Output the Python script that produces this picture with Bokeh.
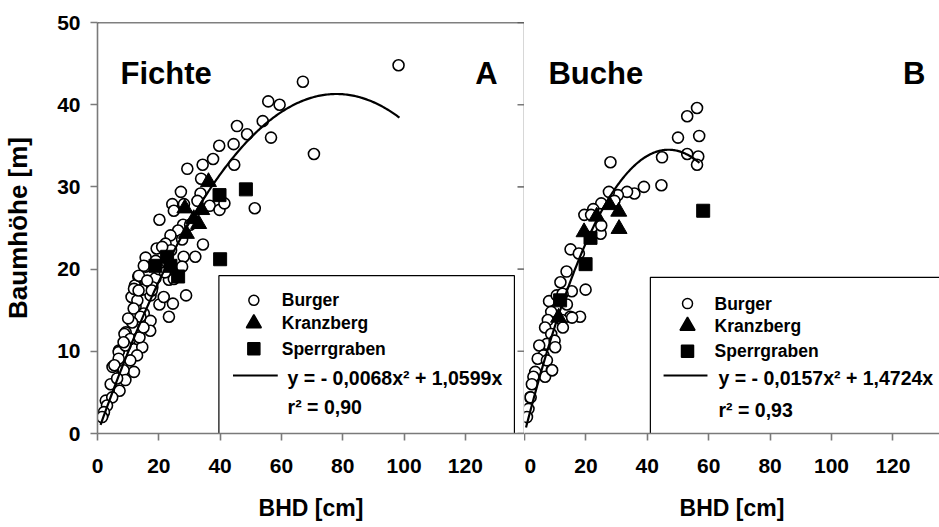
import numpy as np
from bokeh.plotting import figure
from bokeh.layouts import row
from bokeh.models import Range1d, FixedTicker, Span, Label
from bokeh.embed import file_html
from bokeh.resources import INLINE

FONT = "Liberation Sans"

# ---------------- Fichte (spruce) ----------------
fichte_burger_x = [98.2, 67.0, 70.6, 51.3, 55.7, 59.4, 53.9, 56.6, 45.5, 48.8, 39.7, 44.4, 37.7, 44.6,
                   34.3, 29.3, 33.8, 27.2, 33.6, 24.4, 28.2, 32.6, 36.6, 39.8, 41.4, 24.9, 20.2, 27.9,
                   26.3, 23.8, 27.6, 22.2, 34.4, 24.0, 19.3, 28.1, 31.9, 15.7, 15.7, 13.3, 18.9, 23.3,
                   27.6, 12.2, 15.9, 28.9, 24.6, 20.2, 21.6, 17.3, 14.6, 11.1, 12.4, 21.1, 20.0, 24.9,
                   17.9, 11.9, 13.0, 15.1, 17.3, 23.3, 9.2, 13.0, 14.6, 7.0, 11.9, 4.9, 8.1, 4.3,
                   2.7, 1.6, 15.1, 13.5, 16.2, 11.8, 14.0, 17.2, 8.8, 10.7, 13.7, 12.9, 6.9, 9.1,
                   10.7, 6.9, 5.5, 8.5, 9.1, 6.4, 7.2, 4.8, 3.1, 2.1, 1.5, 13.4, 17.7, 8.5,
                   15.0, 11.3, 30.2, 19.0, 22.0, 10.0]
fichte_burger_y = [44.8, 42.8, 34.0, 27.4, 40.4, 40.0, 38.0, 36.0, 37.4, 36.4, 35.0, 35.2, 33.4, 32.7,
                   32.7, 32.2, 31.0, 29.4, 29.2, 27.9, 27.9, 28.3, 27.7, 27.2, 28.0, 27.1, 26.0, 25.4,
                   24.7, 24.1, 23.6, 23.1, 23.0, 22.3, 22.5, 21.5, 21.5, 21.4, 20.3, 19.1, 18.9, 18.7,
                   20.3, 18.0, 18.3, 16.8, 15.8, 15.7, 16.6, 16.8, 17.5, 16.6, 15.4, 22.7, 20.0, 18.8,
                   17.8, 17.6, 16.2, 14.6, 13.7, 14.2, 12.3, 11.5, 10.5, 10.1, 7.5, 8.1, 7.3, 6.0,
                   4.0, 2.2, 20.4, 19.2, 18.6, 15.2, 14.2, 12.5, 12.1, 11.5, 11.7, 9.5, 9.9, 10.7,
                   8.9, 9.1, 8.3, 7.7, 6.5, 6.7, 5.2, 4.4, 3.4, 2.6, 2.0, 17.4, 17.4, 11.1,
                   12.9, 13.5, 25.4, 21.0, 19.6, 14.0]
fichte_kranzberg_x = [36.2, 34.0, 33.0, 31.4, 28.5, 29.0]
fichte_kranzberg_y = [30.6, 27.2, 25.5, 26.1, 27.4, 24.3]
fichte_sperrgraben_x = [39.8, 48.4, 40.0, 18.9, 22.7, 23.8, 26.3]
fichte_sperrgraben_y = [29.0, 29.7, 21.2, 20.4, 21.5, 20.4, 19.1]
fichte_coef = (-0.0068, 1.0599)
fichte_r2 = "0,90"
fichte_fit_range = (1.0, 98.5)

# ---------------- Buche (beech) ----------------
buche_burger_x = [56.2, 53.0, 50.0, 56.9, 53.0, 56.6, 56.2, 44.8, 28.0, 44.6, 38.9, 35.8, 33.4, 30.4,
                  27.5, 29.3, 25.0, 22.4, 19.5, 21.7, 24.8, 25.0, 15.0, 17.7, 13.7, 11.7, 19.9, 15.4,
                  8.0, 10.5, 13.8, 8.7, 7.6, 14.9, 18.1, 12.2, 6.7, 8.7, 12.5, 7.3, 9.8, 10.0,
                  4.8, 6.2, 4.3, 7.3, 8.9, 6.7, 3.5, 2.9, 2.4, 1.8, 1.3, 0.8, 12.4, 15.5,
                  9.0, 2.0]
buche_burger_y = [39.6, 38.6, 36.0, 36.2, 34.0, 33.7, 32.7, 33.6, 33.0, 30.2, 30.0, 29.2, 29.4, 29.0,
                  29.4, 28.3, 28.0, 27.3, 26.6, 26.6, 24.3, 25.3, 22.4, 21.9, 19.7, 18.4, 17.5, 17.3,
                  16.1, 16.8, 15.7, 14.8, 13.8, 14.2, 14.2, 13.8, 12.9, 12.1, 12.9, 10.9, 11.3, 10.5,
                  10.7, 9.5, 9.1, 8.9, 7.7, 6.9, 7.5, 6.9, 6.0, 4.4, 3.0, 2.0, 17.0, 14.1,
                  7.7, 4.4]
buche_kranzberg_x = [30.7, 30.8, 27.7, 23.5, 19.4, 11.1]
buche_kranzberg_y = [27.0, 24.9, 27.8, 26.4, 24.5, 14.1]
buche_sperrgraben_x = [58.2, 21.5, 19.9, 11.6]
buche_sperrgraben_y = [27.1, 23.8, 20.6, 16.2]
buche_coef = (-0.0157, 1.4724)
buche_r2 = "0,93"
buche_fit_range = (0.5, 57.0)

x_ticks = [0, 20, 40, 60, 80, 100, 120]
y_ticks = [0, 10, 20, 30, 40, 50]
series_names = ["Burger", "Kranzberg", "Sperrgraben"]

AXIS_GRAY = "#7a7a7a"
LEFT_XMAX = 429 / 3.08
RIGHT_XMAX = 415 / 3.07


def style_axis(ax, ticks):
    ax.ticker = FixedTicker(ticks=ticks)
    ax.axis_line_color = AXIS_GRAY
    ax.axis_line_width = 1.6
    ax.major_tick_line_color = AXIS_GRAY
    ax.major_tick_line_width = 1.6
    ax.major_tick_out = 7
    ax.major_tick_in = 0
    ax.minor_tick_out = 0
    ax.minor_tick_in = 0
    ax.major_label_text_font = FONT
    ax.major_label_text_font_style = "bold"
    ax.major_label_text_font_size = "21px"
    ax.major_label_text_color = "black"
    ax.axis_label_text_font = FONT
    ax.axis_label_text_font_style = "bold"
    ax.axis_label_text_font_size = "23px"
    ax.axis_label_text_color = "black"


def fmt(v):
    return f"{v:.4f}".replace(".", ",")


def draw_panel(p, bx, by, kx, ky, sx, sy, coef, fit_range, r2, title, letter,
               box, mx, tx, text_rows, line_x, eq_x, eq_rows, title_x, letter_x):
    a, b = coef
    # measured trees
    p.scatter(bx, by, marker="circle", size=11, fill_color="white",
              line_color="black", line_width=1.6)
    # quadratic height curve through the origin
    xs = np.linspace(fit_range[0], fit_range[1], 200)
    p.line(xs, a * xs ** 2 + b * xs, line_color="black", line_width=2.2)
    p.scatter(kx, ky, marker="triangle", size=16, fill_color="black", line_color="black")
    p.scatter(sx, sy, marker="square", size=13, fill_color="black", line_color="black")

    # legend box
    p.quad(left=[box[0]], right=[box[1]], bottom=[box[2]], top=[box[3]],
           fill_color="white", line_color="black", line_width=1.2)
    markers = [("circle", 10, "white"), ("triangle", 15, "black"), ("square", 12, "black")]
    for (m, s, fc), name, ry in zip(markers, series_names, text_rows):
        p.scatter([mx], [ry], marker=m, size=s, fill_color=fc, line_color="black", line_width=1.5)
        p.add_layout(Label(x=tx, y=ry, text=name, text_font=FONT, text_font_style="bold",
                           text_font_size="17.5px", text_baseline="middle", text_color="black"))
    p.line(list(line_x), [eq_rows[0] + 0.25] * 2, line_color="black", line_width=2)
    eq = f"y = - {fmt(-a)}x\u00b2 + {fmt(b)}x"
    p.add_layout(Label(x=eq_x, y=eq_rows[0], text=eq, text_font=FONT, text_font_style="bold",
                       text_font_size="19.5px", text_baseline="middle", text_color="black"))
    p.add_layout(Label(x=eq_x, y=eq_rows[1], text=f"r\u00b2 = {r2}", text_font=FONT,
                       text_font_style="bold", text_font_size="19.5px", text_baseline="middle",
                       text_color="black"))

    # panel titles
    p.add_layout(Label(x=title_x, y=43.8, text=title, text_font=FONT, text_font_style="bold",
                       text_font_size="31px", text_baseline="alphabetic", text_color="black"))
    p.add_layout(Label(x=letter_x, y=43.8, text=letter, text_font=FONT, text_font_style="bold",
                       text_font_size="31px", text_baseline="alphabetic", text_align="right",
                       text_color="black"))


# ---------- left panel: Fichte ----------
p1 = figure(width=524, height=527, x_range=Range1d(0, LEFT_XMAX), y_range=Range1d(0, 50),
            output_backend="svg", toolbar_location=None,
            min_border_left=95, min_border_right=0, min_border_top=22, min_border_bottom=94)
p1.outline_line_color = None
p1.grid.visible = False
style_axis(p1.xaxis[0], x_ticks)
style_axis(p1.yaxis[0], y_ticks)
p1.xaxis[0].axis_label = "BHD [cm]"
p1.yaxis[0].axis_label = "Baumhöhe [m]"
p1.yaxis[0].axis_label_text_font_size = "26px"
p1.xaxis[0].major_label_standoff = 18
p1.yaxis[0].major_label_standoff = 10
p1.xaxis[0].axis_label_standoff = 19
p1.yaxis[0].axis_label_standoff = 21
# top frame line and the shared divider whose ticks point into this panel
p1.add_layout(Span(location=50, dimension="width", line_color="black", line_width=1.5))
p1.add_layout(Span(location=LEFT_XMAX, dimension="height", line_color=AXIS_GRAY, line_width=1.6))
p1.ray(x=[LEFT_XMAX] * len(y_ticks), y=y_ticks, length=7, length_units="screen",
       angle=np.pi, line_color=AXIS_GRAY, line_width=1.6)

draw_panel(p1, fichte_burger_x, fichte_burger_y, fichte_kranzberg_x, fichte_kranzberg_y,
           fichte_sperrgraben_x, fichte_sperrgraben_y, fichte_coef, fichte_fit_range, fichte_r2,
           "Fichte", "A",
           box=(39.6, 136.0, 0, 19.2), mx=51.0, tx=60.1, text_rows=(16.2, 13.4, 10.3),
           line_x=(44.2, 58.8), eq_x=62.0, eq_rows=(6.8, 3.2), title_x=7.5, letter_x=130.5)

# ---------- right panel: Buche ----------
p2 = figure(width=415, height=527, x_range=Range1d(0, RIGHT_XMAX), y_range=Range1d(0, 50),
            output_backend="svg", toolbar_location=None,
            min_border_left=0, min_border_right=0, min_border_top=22, min_border_bottom=94)
p2.outline_line_color = None
p2.grid.visible = False
p2.yaxis.visible = False
style_axis(p2.xaxis[0], x_ticks)
p2.xaxis[0].axis_label = "BHD [cm]"
p2.xaxis[0].major_label_standoff = 18
p2.xaxis[0].axis_label_standoff = 19

draw_panel(p2, buche_burger_x, buche_burger_y, buche_kranzberg_x, buche_kranzberg_y,
           buche_sperrgraben_x, buche_sperrgraben_y, buche_coef, buche_fit_range, buche_r2,
           "Buche", "B",
           box=(41.0, 140.0, 0, 19.0), mx=53.1, tx=61.9, text_rows=(15.8, 13.1, 10.0),
           line_x=(45.3, 59.6), eq_x=63.2, eq_rows=(6.8, 2.9), title_x=7.8, letter_x=130.6)

layout = row(p1, p2)
open("out.html", "w").write(file_html(layout, INLINE))
